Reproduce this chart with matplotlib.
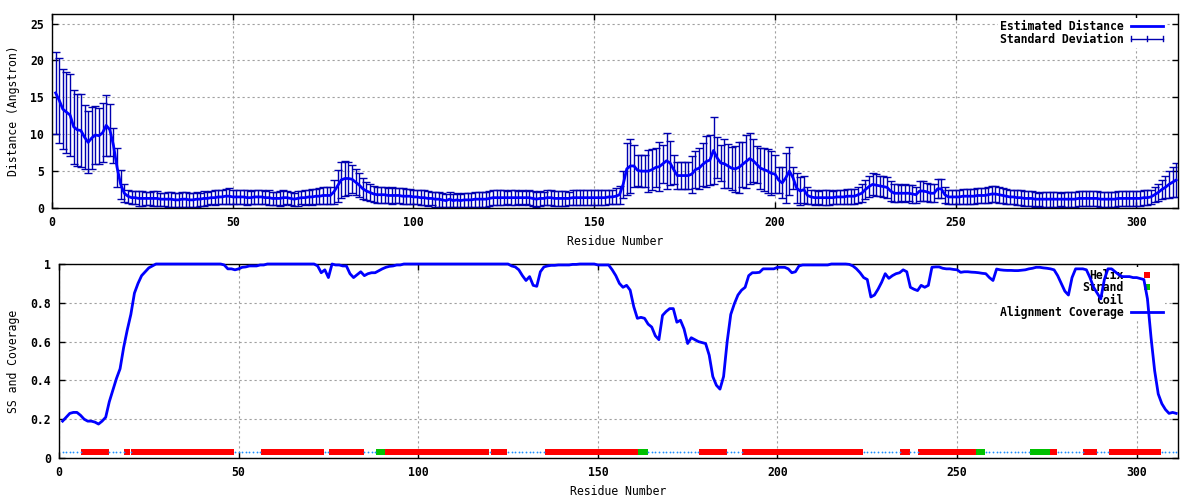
import numpy as np
import matplotlib

matplotlib.use("Agg")
import matplotlib.pyplot as plt
from matplotlib.container import ErrorbarContainer
from matplotlib.lines import Line2D
from matplotlib.ticker import FormatStrFormatter

# Estimated distance per residue (residues 1..311), rows of 10
DIST_MEAN = [
    15.6, 14.6, 13.4, 13.0, 12.6, 11.0, 10.6, 10.5, 9.6, 8.9,
    9.5, 9.9, 9.8, 10.2, 11.2, 10.6, 8.5, 5.5, 3.2, 2.0,
    1.6, 1.4, 1.4, 1.3, 1.3, 1.3, 1.3, 1.3, 1.3, 1.2,
    1.2, 1.2, 1.2, 1.1, 1.1, 1.2, 1.2, 1.1, 1.1, 1.2,
    1.2, 1.3, 1.3, 1.4, 1.4, 1.5, 1.5, 1.6, 1.6, 1.5,
    1.5, 1.5, 1.5, 1.4, 1.4, 1.5, 1.5, 1.5, 1.4, 1.4,
    1.3, 1.3, 1.3, 1.4, 1.4, 1.3, 1.2, 1.3, 1.4, 1.4,
    1.5, 1.5, 1.6, 1.6, 1.7, 1.7, 1.7, 2.2, 3.0, 3.8,
    4.0, 4.0, 3.9, 3.5, 3.1, 2.6, 2.3, 2.1, 1.9, 1.8,
    1.8, 1.8, 1.7, 1.7, 1.7, 1.7, 1.6, 1.6, 1.6, 1.5,
    1.5, 1.4, 1.4, 1.3, 1.3, 1.2, 1.2, 1.1, 1.0, 1.2,
    1.0, 1.1, 1.0, 1.1, 1.1, 1.1, 1.2, 1.2, 1.2, 1.2,
    1.3, 1.4, 1.4, 1.4, 1.4, 1.4, 1.4, 1.4, 1.4, 1.4,
    1.4, 1.4, 1.3, 1.2, 1.3, 1.3, 1.4, 1.4, 1.3, 1.3,
    1.3, 1.3, 1.3, 1.4, 1.4, 1.4, 1.4, 1.4, 1.4, 1.4,
    1.4, 1.4, 1.4, 1.5, 1.5, 1.6, 1.8, 3.2, 5.3, 5.7,
    5.7, 5.1, 5.0, 5.0, 5.0, 5.2, 5.5, 5.6, 6.0, 6.4,
    6.1, 5.2, 4.4, 4.4, 4.4, 4.4, 4.6, 5.2, 5.4, 5.9,
    6.3, 6.5, 7.8, 6.8, 6.1, 6.0, 5.7, 5.4, 5.3, 5.5,
    5.9, 6.3, 6.7, 6.4, 5.9, 5.4, 5.2, 5.0, 4.7, 4.6,
    3.8, 3.4, 4.1, 5.0, 4.1, 2.7, 2.3, 2.5, 1.7, 1.5,
    1.4, 1.4, 1.4, 1.4, 1.4, 1.4, 1.5, 1.5, 1.5, 1.6,
    1.6, 1.6, 1.8, 2.0, 2.5, 2.9, 3.2, 3.1, 3.0, 2.9,
    2.8, 2.3, 2.0, 2.0, 2.0, 2.0, 2.0, 1.9, 1.8, 2.3,
    2.3, 2.2, 2.0, 2.0, 2.6, 2.6, 1.8, 1.5, 1.5, 1.5,
    1.5, 1.6, 1.6, 1.6, 1.6, 1.7, 1.7, 1.7, 1.8, 1.9,
    1.9, 1.8, 1.7, 1.6, 1.5, 1.5, 1.4, 1.4, 1.3, 1.3,
    1.3, 1.2, 1.2, 1.2, 1.2, 1.2, 1.2, 1.2, 1.2, 1.2,
    1.2, 1.2, 1.2, 1.3, 1.3, 1.3, 1.3, 1.3, 1.3, 1.2,
    1.2, 1.2, 1.2, 1.2, 1.3, 1.3, 1.3, 1.3, 1.3, 1.3,
    1.3, 1.4, 1.4, 1.5, 1.8, 2.1, 2.5, 2.8, 3.2, 3.5, 3.8,
]

DIST_SD = [
    5.6, 5.8, 5.4, 5.5, 5.5, 5.0, 4.9, 4.9, 4.3, 4.2,
    4.2, 3.9, 3.8, 4.0, 4.1, 3.5, 2.4, 2.6, 2.0, 1.2,
    0.9, 0.9, 0.9, 1.0, 1.0, 0.9, 0.9, 1.0, 1.0, 0.9,
    0.9, 1.0, 1.0, 0.9, 0.9, 1.0, 1.0, 0.9, 1.0, 1.0,
    0.9, 1.0, 0.9, 0.9, 1.0, 1.0, 1.0, 1.0, 1.1, 1.0,
    1.0, 1.0, 1.0, 1.0, 0.9, 1.0, 1.0, 0.9, 0.9, 1.0,
    0.9, 0.9, 1.0, 1.0, 0.9, 0.9, 0.9, 1.0, 0.9, 1.0,
    1.0, 1.1, 1.0, 1.1, 1.1, 1.1, 1.2, 1.6, 2.2, 2.4,
    2.4, 2.2, 1.9, 1.8, 1.6, 1.4, 1.2, 1.1, 1.1, 1.1,
    1.1, 1.1, 1.0, 1.1, 1.0, 1.0, 1.1, 1.0, 1.0, 1.0,
    1.0, 1.0, 1.0, 1.0, 0.9, 1.0, 1.0, 1.0, 0.9, 1.0,
    0.9, 1.0, 0.9, 1.0, 1.0, 0.9, 1.0, 1.0, 1.0, 1.0,
    1.0, 1.0, 1.0, 1.0, 1.0, 0.9, 1.0, 1.0, 0.9, 1.0,
    0.9, 1.0, 1.0, 1.0, 1.0, 0.9, 1.0, 1.0, 1.0, 1.0,
    1.0, 1.0, 0.9, 1.0, 1.0, 1.0, 1.0, 1.0, 1.0, 1.0,
    1.0, 1.0, 1.0, 1.0, 1.0, 1.1, 1.2, 1.8, 3.5, 3.6,
    2.9, 2.1, 2.2, 2.2, 2.8, 2.8, 2.6, 3.3, 2.6, 3.8,
    3.0, 2.0, 1.8, 1.8, 1.8, 1.8, 2.5, 2.5, 2.8, 2.9,
    3.5, 3.4, 4.6, 2.8, 2.5, 3.3, 3.0, 2.9, 3.1, 3.4,
    3.1, 3.6, 3.4, 2.9, 2.5, 2.8, 2.9, 3.0, 3.0, 2.6,
    1.7, 2.1, 3.4, 3.3, 1.5, 2.0, 1.9, 1.8, 1.1, 1.0,
    1.0, 0.9, 1.0, 1.0, 1.0, 0.9, 1.0, 1.0, 1.0, 1.0,
    1.0, 1.0, 1.1, 1.2, 1.3, 1.4, 1.5, 1.5, 1.4, 1.4,
    1.4, 1.3, 1.2, 1.2, 1.1, 1.2, 1.1, 1.2, 1.1, 1.3,
    1.3, 1.2, 1.2, 1.2, 1.3, 1.3, 1.1, 1.0, 1.0, 1.0,
    1.0, 1.0, 1.0, 1.0, 1.0, 1.0, 1.0, 1.0, 1.1, 1.1,
    1.1, 1.1, 1.0, 1.0, 1.0, 1.0, 1.0, 1.0, 1.0, 1.0,
    1.0, 1.0, 0.9, 1.0, 1.0, 1.0, 1.0, 1.0, 0.9, 1.0,
    1.0, 1.0, 1.0, 1.0, 1.0, 1.0, 1.0, 1.0, 1.0, 1.0,
    1.0, 1.0, 1.0, 1.0, 1.0, 1.0, 1.0, 1.0, 1.0, 1.0,
    1.0, 1.0, 1.0, 1.0, 1.0, 1.1, 1.3, 1.5, 1.8, 2.0, 2.3,
]

# Alignment coverage per residue
COVERAGE = [
    0.19, 0.21, 0.23, 0.235, 0.235, 0.22, 0.20, 0.19, 0.19, 0.185,
    0.175, 0.19, 0.21, 0.29, 0.35, 0.41, 0.46, 0.57, 0.66, 0.74,
    0.85, 0.90, 0.94, 0.96, 0.98, 0.99, 1.0, 1.0, 1.0, 1.0,
    1.0, 1.0, 1.0, 1.0, 1.0, 1.0, 1.0, 1.0, 1.0, 1.0,
    1.0, 1.0, 1.0, 1.0, 1.0, 0.995, 0.975, 0.975, 0.97, 0.975,
    0.983, 0.985, 0.99, 0.99, 0.99, 0.995, 0.995, 1.0, 1.0, 1.0,
    1.0, 1.0, 1.0, 1.0, 1.0, 1.0, 1.0, 1.0, 1.0, 1.0,
    1.0, 0.99, 0.955, 0.97, 0.93, 1.0, 0.995, 0.995, 0.99, 0.99,
    0.95, 0.93, 0.945, 0.96, 0.94, 0.95, 0.955, 0.955, 0.965, 0.975,
    0.983, 0.988, 0.99, 0.995, 0.995, 1.0, 1.0, 1.0, 1.0, 1.0,
    1.0, 1.0, 1.0, 1.0, 1.0, 1.0, 1.0, 1.0, 1.0, 1.0,
    1.0, 1.0, 1.0, 1.0, 1.0, 1.0, 1.0, 1.0, 1.0, 1.0,
    1.0, 1.0, 1.0, 1.0, 1.0, 0.99, 0.985, 0.97, 0.94, 0.915,
    0.935, 0.89, 0.885, 0.96, 0.985, 0.99, 0.993, 0.993, 0.995, 0.995,
    0.995, 0.995, 0.998, 0.998, 1.0, 1.0, 1.0, 1.0, 1.0, 0.995,
    0.995, 0.995, 0.995, 0.97, 0.94, 0.9, 0.88, 0.89, 0.865, 0.78,
    0.72, 0.725, 0.72, 0.69, 0.675, 0.63, 0.61, 0.735, 0.755, 0.77,
    0.77, 0.70, 0.71, 0.665, 0.59, 0.62, 0.61, 0.60, 0.595, 0.59,
    0.53, 0.42, 0.375, 0.355, 0.42, 0.6, 0.74, 0.795, 0.84, 0.865,
    0.88, 0.94, 0.955, 0.955, 0.957, 0.975, 0.975, 0.975, 0.975, 0.983,
    0.983, 0.983, 0.975, 0.955, 0.96, 0.99, 0.995, 0.995, 0.995, 0.995,
    0.995, 0.995, 0.995, 0.995, 1.0, 1.0, 1.0, 1.0, 1.0, 0.998,
    0.99, 0.975, 0.955, 0.93, 0.92, 0.83, 0.84, 0.87, 0.906, 0.95,
    0.926, 0.94, 0.95, 0.955, 0.97, 0.96, 0.88, 0.87, 0.863, 0.89,
    0.88, 0.89, 0.983, 0.985, 0.985, 0.978, 0.975, 0.975, 0.972, 0.97,
    0.957, 0.96, 0.96, 0.958, 0.957, 0.955, 0.952, 0.95, 0.93, 0.915,
    0.974, 0.97, 0.968, 0.967, 0.967, 0.966, 0.966, 0.968, 0.97, 0.975,
    0.978, 0.983, 0.983, 0.98, 0.978, 0.975, 0.97, 0.94, 0.9, 0.86,
    0.84, 0.93, 0.975, 0.975, 0.975, 0.97, 0.93, 0.88, 0.85, 0.82,
    0.92, 0.975, 0.975, 0.96, 0.945, 0.935, 0.935, 0.935, 0.93, 0.93,
    0.925, 0.92, 0.82, 0.62, 0.45, 0.33, 0.28, 0.25, 0.23, 0.235, 0.23,
]

# Secondary structure (inclusive residue ranges); everything else is coil
HELIX_SEGMENTS = [(7, 13), (19, 19), (21, 48), (57, 73), (76, 84), (91, 119),
                  (121, 124), (136, 161), (179, 185), (191, 223), (235, 236),
                  (240, 255), (276, 277), (286, 288), (293, 306)]
STRAND_SEGMENTS = [(89, 90), (162, 163), (256, 257), (271, 275)]
SS_LEVEL = 0.03

X_MAX = 311.5


class KeyErrorbarHandler:
    """gnuplot-like errorbar key sample: |---+---|"""

    def legend_artist(self, legend, orig_handle, fontsize, handlebox):
        x0, y0 = handlebox.xdescent, handlebox.ydescent
        w, h = handlebox.width, handlebox.height
        yc = y0 + h / 2
        c = h * 0.3
        tr = handlebox.get_transform()
        kw = dict(color="#0000b0", lw=1, transform=tr)
        segs = [([x0, x0 + w], [yc, yc]),
                ([x0, x0], [yc - c, yc + c]),
                ([x0 + w, x0 + w], [yc - c, yc + c]),
                ([x0 + w / 2, x0 + w / 2], [yc - c, yc + c])]
        art = None
        for xs, ys in segs:
            art = Line2D(xs, ys, **kw)
            handlebox.add_artist(art)
        return art


def style_axes(ax):
    ax.set_axisbelow(True)
    ax.grid(True, color="#a0a0a0", lw=0.8, linestyle=(0, (2, 2.5)))
    ax.tick_params(direction="in", top=True, right=True, length=4.5, width=1, pad=6)
    for s in ax.spines.values():
        s.set_linewidth(1)


def key(ax, handles, labels, anchor, **extra):
    leg = ax.legend(handles, labels, loc="upper right", bbox_to_anchor=anchor,
                    markerfirst=False, fancybox=False, facecolor="white",
                    framealpha=1, handlelength=2.8, handletextpad=0.6,
                    labelspacing=-0.05, borderpad=0.2, borderaxespad=0,
                    **extra)
    leg.get_frame().set_linewidth(0)
    leg.set_zorder(1)
    return leg


def main():
    plt.rcParams["font.family"] = ["DejaVu Sans Mono"]
    plt.rcParams["font.weight"] = "bold"
    plt.rcParams["font.size"] = 8.3

    res = np.arange(1, len(DIST_MEAN) + 1)
    mean = np.array(DIST_MEAN)
    sd = np.array(DIST_SD)
    cov = np.array(COVERAGE)
    res_cov = np.arange(1, len(cov) + 1)

    ss = np.array(["C"] * len(cov))
    for a, b in HELIX_SEGMENTS:
        ss[a - 1:b] = "H"
    for a, b in STRAND_SEGMENTS:
        ss[a - 1:b] = "E"

    fig = plt.figure(figsize=(12, 5), dpi=100)
    ax1 = fig.add_axes([52 / 1200, 1 - 208 / 500, 1126 / 1200, 194 / 500])
    ax2 = fig.add_axes([59 / 1200, 1 - 458 / 500, 1119 / 1200, 194 / 500])

    # --- top: estimated distance with standard deviation
    style_axes(ax1)
    eb = ax1.errorbar(res, mean, yerr=sd, fmt="none", ecolor="#0000b0",
                      elinewidth=1, capsize=3, capthick=1, zorder=2)
    (line,) = ax1.plot(res, mean, color="#0000ff", lw=2, zorder=3)
    ax1.set_xlim(0, X_MAX)
    ax1.set_ylim(0, 26.3)
    ax1.set_xticks(range(0, 301, 50))
    ax1.set_yticks(range(0, 26, 5))
    ax1.set_xlabel("Residue Number", labelpad=4)
    ax1.set_ylabel("Distance (Angstron)", labelpad=7)
    key(ax1, [line, eb], ["Estimated Distance", "Standard Deviation"],
        (0.989, 0.98), handler_map={ErrorbarContainer: KeyErrorbarHandler()})

    # --- bottom: secondary structure and alignment coverage
    style_axes(ax2)
    coil = ss == "C"
    helix = ss == "H"
    strand = ss == "E"
    h1, = ax2.plot(res_cov[helix], np.full(helix.sum(), SS_LEVEL), "s",
                   color="#ff0000", ms=5, mew=0, zorder=3)
    h2, = ax2.plot(res_cov[strand], np.full(strand.sum(), SS_LEVEL), "s",
                   color="#00c000", ms=5, mew=0, zorder=3)
    h3, = ax2.plot(res_cov[coil], np.full(coil.sum(), SS_LEVEL), "o",
                   color="#1e90ff", ms=1.3, mew=0, zorder=3)
    h4, = ax2.plot(res_cov, cov, color="#0000ff", lw=2, zorder=4, clip_on=False)
    ax2.set_xlim(0, X_MAX)
    ax2.set_ylim(0, 1)
    ax2.set_xticks(range(0, 301, 50))
    ax2.set_yticks(np.arange(0, 1.01, 0.2))
    ax2.yaxis.set_major_formatter(FormatStrFormatter("%g"))
    ax2.set_xlabel("Residue Number", labelpad=4)
    ax2.set_ylabel("SS and Coverage", labelpad=7)
    key(ax2, [h1, h2, h3, h4], ["Helix", "Strand", "Coil", "Alignment Coverage"],
        (0.9886, 0.987), numpoints=1)

    fig.savefig("out.png", dpi=100)
    plt.close(fig)


if __name__ == "__main__":
    main()
